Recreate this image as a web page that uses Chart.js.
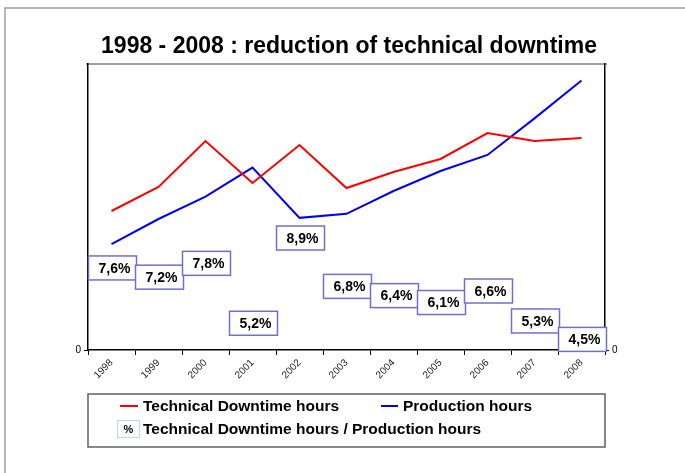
<!DOCTYPE html>
<html>
<head>
<meta charset="utf-8">
<script src="https://cdn.jsdelivr.net/npm/chart.js@4/dist/chart.umd.min.js"></script>
<style>
  body { margin: 0; background: #fff; }
  canvas { display: block; }
</style>
</head>
<body>
<canvas id="myChart" width="685" height="473"></canvas>
<script>
// 1998 - 2008 technical downtime vs production hours

const years = ["1998", "1999", "2000", "2001", "2002", "2003", "2004", "2005", "2006", "2007", "2008"];
const downtimeHours = [1390, 1630, 2090, 1670, 2050, 1620, 1780, 1910, 2170, 2090, 2120];
const productionHours = [18500, 22900, 26800, 31900, 23100, 23800, 27800, 31300, 34100, 40500, 47100];
const ratioPct = [7.6, 7.2, 7.8, 5.2, 8.9, 6.8, 6.4, 6.1, 6.6, 5.3, 4.5];

const titleText = "1998 - 2008 : reduction of technical downtime";
const fontFam = "'Liberation Sans', Arial, sans-serif";

function pctLabel(v) {
  return v.toFixed(1).replace(".", ",") + "%";
}

// frame, plot border, title
const decorPlugin = {
  id: "decor",
  beforeDraw(chart) {
    const ctx = chart.ctx;
    const a = chart.chartArea;
    ctx.save();
    ctx.strokeStyle = "#a0a0a0";
    ctx.lineWidth = 1.5;
    ctx.strokeRect(5, 8, 720, 520);

    ctx.strokeStyle = "#808080";
    ctx.lineWidth = 1.5;
    ctx.beginPath();
    ctx.moveTo(a.left - 2, a.top);
    ctx.lineTo(a.right + 2, a.top);
    ctx.stroke();

    ctx.fillStyle = "#000";
    ctx.font = "bold 23px " + fontFam;
    ctx.textAlign = "center";
    ctx.textBaseline = "middle";
    ctx.fillText(titleText, 349, 47);
    ctx.restore();
  },
  afterDraw(chart) {
    const ctx = chart.ctx;
    const a = chart.chartArea;
    ctx.save();

    // percentage boxes
    const meta = chart.getDatasetMeta(2);
    const vals = chart.data.datasets[2].data;
    ctx.font = "bold 14px " + fontFam;
    ctx.textBaseline = "middle";
    ctx.textAlign = "center";
    meta.data.forEach((pt, i) => {
      const w = 48, h = 24;
      const x = pt.x - w / 2 + 1;
      const y = pt.y - h / 2;
      ctx.fillStyle = "#fff";
      ctx.fillRect(x, y, w, h);
      ctx.strokeStyle = "#6f6fd0";
      ctx.lineWidth = 1.5;
      ctx.strokeRect(x, y, w, h);
      ctx.fillStyle = "#000";
      ctx.fillText(pctLabel(vals[i]), x + w / 2 + 2, y + h / 2 + 1);
    });

    // legend
    const ds = chart.data.datasets;
    ctx.strokeStyle = "#606060";
    ctx.lineWidth = 1.5;
    ctx.strokeRect(a.left, 394, a.right - a.left, 53);

    ctx.font = "bold 15.5px " + fontFam;
    ctx.textAlign = "left";
    ctx.fillStyle = "#000";

    ctx.lineWidth = 2;
    ctx.strokeStyle = ds[0].borderColor;
    ctx.beginPath();
    ctx.moveTo(120, 406);
    ctx.lineTo(138, 406);
    ctx.stroke();
    ctx.fillText(ds[0].label, 143, 407);

    ctx.strokeStyle = ds[1].borderColor;
    ctx.beginPath();
    ctx.moveTo(381, 406);
    ctx.lineTo(398, 406);
    ctx.stroke();
    ctx.fillText(ds[1].label, 403, 407);

    ctx.strokeStyle = "#b8dce2";
    ctx.lineWidth = 1;
    ctx.strokeRect(117.5, 420.5, 22, 17);
    ctx.font = "bold 11px " + fontFam;
    ctx.textAlign = "center";
    ctx.fillText("%", 128.5, 429.5);
    ctx.font = "bold 15.5px " + fontFam;
    ctx.textAlign = "left";
    ctx.fillText(ds[2].label, 143, 430);

    ctx.restore();
  }
};

const ctx = document.getElementById("myChart");

new Chart(ctx, {
  type: "line",
  data: {
    labels: years,
    datasets: [
      {
        label: "Technical Downtime hours",
        data: downtimeHours,
        borderColor: "#ff0000",
        backgroundColor: "#ff0000",
        borderWidth: 2,
        pointRadius: 0,
        tension: 0,
        yAxisID: "yDown",
      },
      {
        label: "Production hours",
        data: productionHours,
        borderColor: "#0000ff",
        backgroundColor: "#0000ff",
        borderWidth: 2,
        pointRadius: 0,
        tension: 0,
        yAxisID: "yProd",
      },
      {
        label: "Technical Downtime hours / Production hours",
        data: ratioPct,
        showLine: false,
        pointRadius: 0,
        borderColor: "transparent",
        yAxisID: "yPct",
      },
    ],
  },
  options: {
    responsive: false,
    animation: false,
    devicePixelRatio: 1,
    layout: { padding: { top: 64, left: 0, right: 0, bottom: 0 } },
    plugins: {
      legend: { display: false },
      tooltip: { enabled: false },
    },
    scales: {
      x: {
        offset: true,
        grid: {
          offset: true,
          drawOnChartArea: false,
          tickLength: 5,
          color: "#000",
          lineWidth: 1,
        },
        border: { color: "#000", width: 1.5 },
        ticks: {
          autoSkip: false,
          maxRotation: 45,
          minRotation: 45,
          padding: 2,
          color: "#222",
          font: { family: fontFam, size: 10 },
        },
        afterFit(scale) {
          scale.height = 123;
        },
      },
      yDown: {
        position: "left",
        min: 0,
        max: 2860,
        afterBuildTicks(scale) {
          scale.ticks = [{ value: 0 }];
        },
        grid: { drawOnChartArea: false, tickLength: 4, color: "#000" },
        border: { color: "#000", width: 1.5 },
        ticks: {
          padding: 3,
          color: "#000",
          font: { family: fontFam, size: 10 },
        },
        afterFit(scale) {
          scale.width = 88;
        },
      },
      yProd: {
        position: "right",
        min: 0,
        max: 50000,
        afterBuildTicks(scale) {
          scale.ticks = [{ value: 0 }];
        },
        grid: { drawOnChartArea: false, tickLength: 4, color: "#000" },
        border: { color: "#000", width: 1.5 },
        ticks: {
          padding: 3,
          color: "#000",
          font: { family: fontFam, size: 10 },
        },
        afterFit(scale) {
          scale.width = 80;
        },
      },
      yPct: {
        display: false,
        min: 4.04,
        max: 16.45,
      },
    },
  },
  plugins: [decorPlugin],
});
</script>
</body>
</html>
